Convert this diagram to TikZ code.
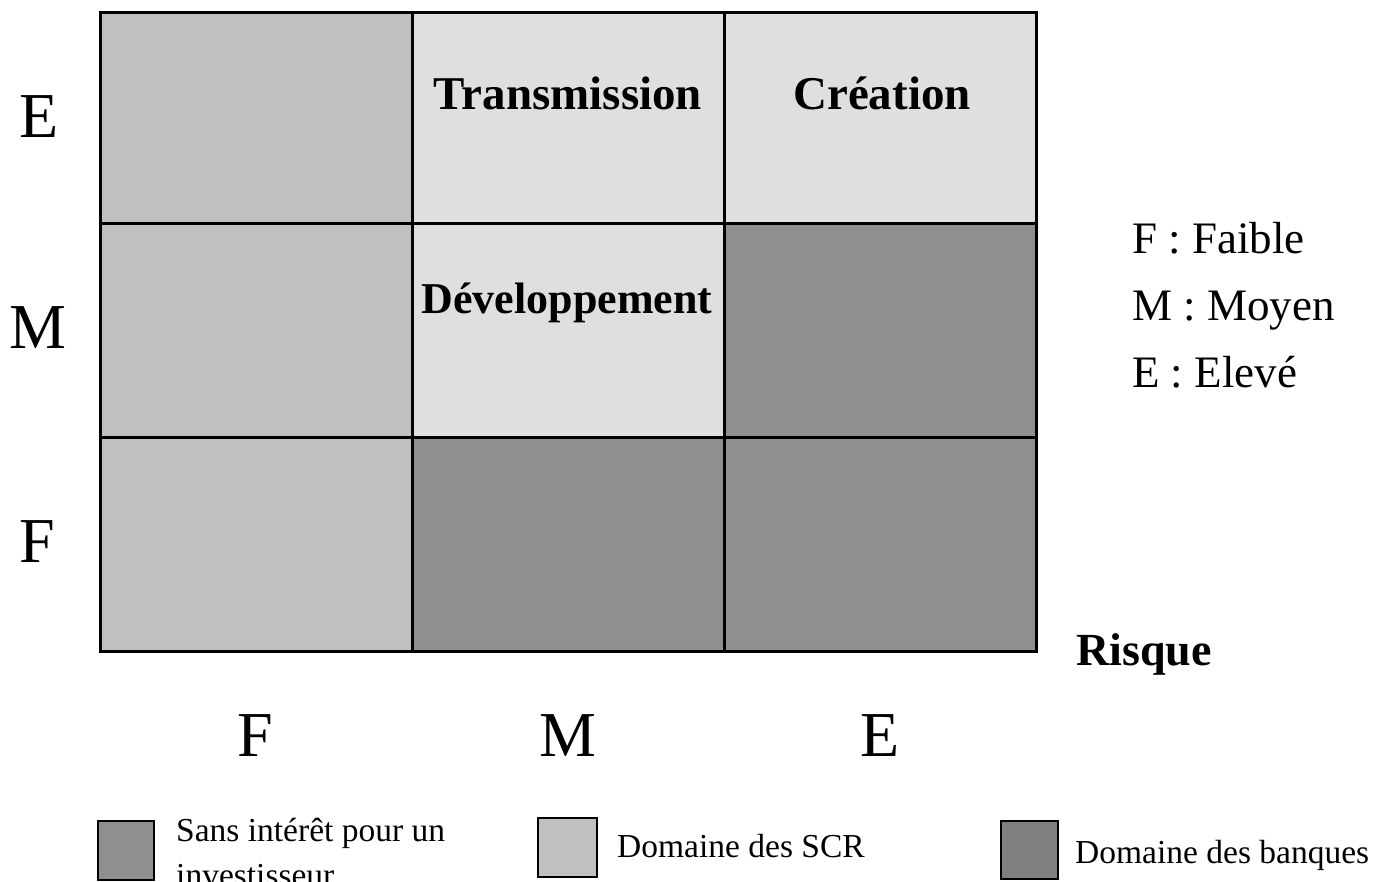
\documentclass[tikz,border=0pt]{standalone}
\usepackage{fontspec}
\setmainfont{Liberation Serif}
\definecolor{cellA}{HTML}{C0C0C0}
\definecolor{cellB}{HTML}{DFDFDF}
\definecolor{cellC}{HTML}{8F8F8F}
\definecolor{cellD}{HTML}{808080}
\begin{document}
\begin{tikzpicture}[x=1pt,y=-1pt,
  cell/.style={draw=black,line width=3pt},
  legbox/.style={draw=black,line width=2pt},
  axis/.style={inner sep=0pt,anchor=base,font=\fontsize{64}{64}\selectfont},
  celltext/.style={inner sep=0pt,anchor=base,font=\fontsize{47}{47}\selectfont\bfseries},
  key/.style={inner sep=0pt,anchor=base west,font=\fontsize{45}{45}\selectfont},
  legtext/.style={inner sep=0pt,anchor=base west,font=\fontsize{33.5}{33.5}\selectfont}]
\useasboundingbox[fill=white] (0,0) rectangle (1391,881);
% grid cells
\draw[cell,fill=cellA] (100,12) rectangle (412,223);
\draw[cell,fill=cellB] (412,12) rectangle (724,223);
\draw[cell,fill=cellB] (724,12) rectangle (1036,223);
\draw[cell,fill=cellA] (100,223) rectangle (412,437);
\draw[cell,fill=cellB] (412,223) rectangle (724,437);
\draw[cell,fill=cellC] (724,223) rectangle (1036,437);
\draw[cell,fill=cellA] (100,437) rectangle (412,651);
\draw[cell,fill=cellC] (412,437) rectangle (724,651);
\draw[cell,fill=cellC] (724,437) rectangle (1036,651);
% cell texts
\node[celltext] (trans) at (568,109) {Transmission};
\node[celltext] (crea) at (882,109) {Création};
\node[celltext,font=\fontsize{44}{44}\selectfont\bfseries] (dev) at (567,313) {Développement};
% row labels
\node[axis] (rE) at (39.5,137) {E};
\node[axis] (rM) at (37.5,348) {M};
\node[axis] (rF) at (37.5,562) {F};
% column labels
\node[axis] (cF) at (255,756) {F};
\node[axis] (cM) at (568,756) {M};
\node[axis] (cE) at (880,756) {E};
% key
\node[key] (kF) at (1132,253) {F : Faible};
\node[key] (kM) at (1132,320) {M : Moyen};
\node[key] (kE) at (1132,387) {E : Elevé};
\node[celltext,anchor=base west,font=\fontsize{46}{46}\selectfont\bfseries] (risk) at (1076,665) {Risque};
% legend
\draw[legbox,fill=cellC] (98,821) rectangle (154,880);
\node[legtext] (l1a) at (176,841) {Sans intérêt pour un};
\node[legtext] (l1b) at (176,886) {investisseur};
\draw[legbox,fill=cellA] (538,818) rectangle (597,877);
\node[legtext] (l2) at (617,857) {Domaine des SCR};
\draw[legbox,fill=cellD] (1001,821) rectangle (1058,879);
\node[legtext] (l3) at (1075,863) {Domaine des banques};
\end{tikzpicture}
\end{document}
